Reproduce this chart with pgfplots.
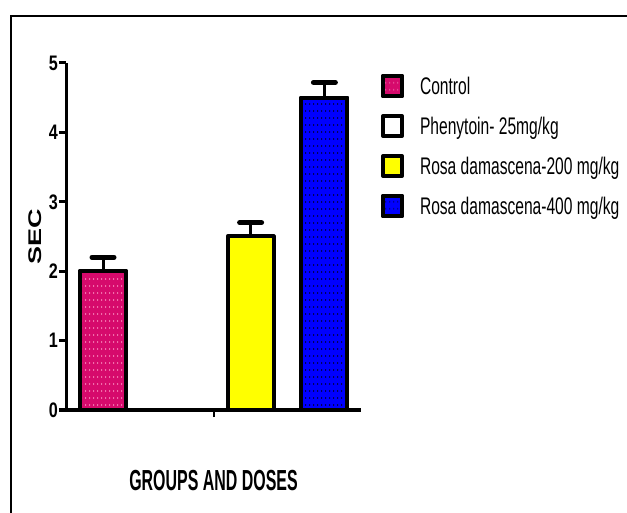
\documentclass[border=0pt]{standalone}
\usepackage{fontspec}
\setmainfont{Liberation Sans}
\newfontfamily\legfont{Liberation Sans}[FakeStretch=0.65]
\newfontfamily\xlabfont{Liberation Sans}[FakeStretch=0.55]
\newfontfamily\tickfont{Liberation Sans}[FakeStretch=0.77]
\usepackage{graphicx}
\usepackage{pgfplots}
\pgfplotsset{compat=1.18}
\usetikzlibrary{patterns}
\definecolor{ctrl}{RGB}{214,10,108}
\definecolor{ctrldot}{RGB}{240,110,170}
\definecolor{ryel}{RGB}{255,255,0}
\definecolor{rblue}{RGB}{0,0,255}
\definecolor{bluedot}{RGB}{0,0,90}
\pgfdeclarepatternformonly{bardots}{\pgfpointorigin}{\pgfpoint{4bp}{7bp}}{\pgfpoint{4bp}{7bp}}{%
  \pgfpathrectangle{\pgfpoint{1.5bp}{2.5bp}}{\pgfpoint{1bp}{2bp}}\pgfusepath{fill}}
\pgfplotsset{legbox/.style={legend image code/.code={%
  \draw[##1, line width=4bp, line join=round] (0bp,-8bp) rectangle (19bp,12bp);}}}
\begin{document}
\begin{tikzpicture}
\useasboundingbox (0,0) rectangle (627bp,513bp);
\begin{axis}[
  at={(66bp,103bp)}, anchor=south west,
  scale only axis, width=295bp, height=347bp,
  xmin=66, xmax=361, ymin=0, ymax=5,
  axis lines=left,
  x axis line style={-, line width=4bp},
  y axis line style={-, line width=3bp},
  tick align=outside,
  major tick length=7bp,
  xtick={214}, xticklabels={},
  xtick style={line width=1.5bp, black},
  ytick={0,1,2,3,4,5}, yticklabels={0,1,2,3,4,5},
  ytick style={line width=3bp, black},
  yticklabel style={font=\tickfont\fontsize{21bp}{24bp}\selectfont\bfseries, inner sep=1bp},
  ylabel={\scalebox{1}[0.68]{\fontsize{27bp}{30bp}\selectfont\bfseries SEC}},
  ylabel style={at={(axis description cs:-0.1051,0.5)}, anchor=center, inner sep=0pt},
  xlabel={\xlabfont\fontsize{29bp}{32bp}\selectfont\bfseries GROUPS AND DOSES},
  xlabel style={at={(axis description cs:0.5,-0.2046)}, anchor=center, inner sep=0pt},
  ybar, bar width=46bp, bar shift=0pt,
  clip=false,
  error bars/y dir=plus,
  error bars/y explicit,
  error bars/error bar style={line width=3bp, black},
  error bars/error mark=|,
  error bars/error mark options={line width=5bp, mark size=11bp, black, line cap=round},
  legend style={at={(axis description cs:1.0678,0.9683)}, anchor=north west,
    draw=none, fill=none, inner sep=0pt, outer sep=0pt, row sep=14.5bp,
    nodes={inner sep=0pt, text height=18bp, text depth=5bp, font=\legfont\fontsize{24bp}{28bp}\selectfont},
    /tikz/every odd column/.append style={column sep=16bp}},
  legend cell align=left,
]
\addplot[draw=black, line width=4bp, line join=round, pattern=bardots, pattern color=ctrldot, preaction={fill=ctrl}, legbox]
  coordinates {(103,2.0) +- (0,0.2)};
\addlegendentry{Control}
\addlegendimage{legbox, draw=black, fill=white}
\addlegendentry{Phenytoin- 25mg/kg}
\addplot[draw=black, line width=4bp, line join=round, fill=ryel, legbox]
  coordinates {(250.6,2.5) +- (0,0.2)};
\addlegendentry{Rosa damascena-200 mg/kg}
\addplot[draw=black, line width=4bp, line join=round, pattern=bardots, pattern color=bluedot, preaction={fill=rblue}, legbox]
  coordinates {(324.4,4.5) +- (0,0.22)};
\addlegendentry{Rosa damascena-400 mg/kg}
\end{axis}
\draw[line width=2.5bp] (11bp,-2bp) -- (11bp,497bp) -- (630bp,497bp);
\end{tikzpicture}
\end{document}
